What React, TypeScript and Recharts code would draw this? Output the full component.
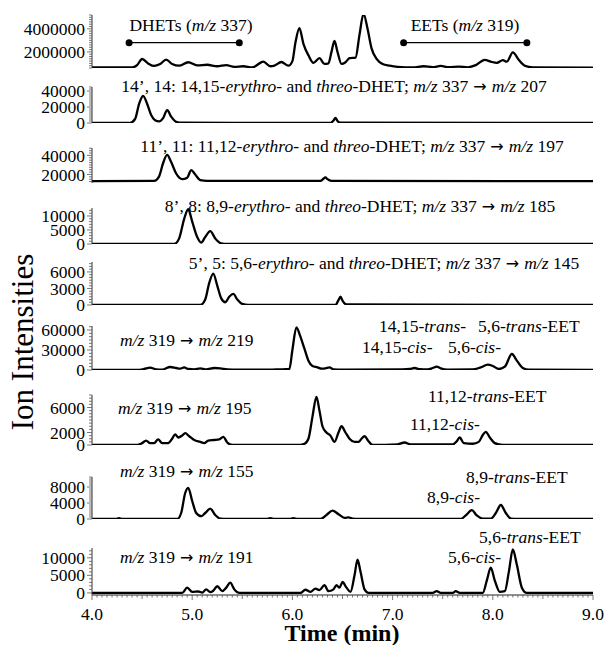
import React from "react";
import { LineChart, Line, XAxis, YAxis, ReferenceLine, ReferenceDot } from "recharts";

// ---------- data: [time (min), ion intensity] ----------
const ticTrace: [number, number][] = [
  [4.0, 650000], [4.4, 650000], [4.45, 850000], [4.5, 1380000], [4.56, 1000000], [4.62, 780000],
  [4.68, 950000], [4.74, 1320000], [4.8, 950000], [4.87, 800000], [4.96, 1100000], [5.05, 820000],
  [5.15, 880000], [5.25, 750000], [5.34, 850000], [5.42, 700000], [5.51, 750000], [5.6, 660000],
  [5.71, 1150000], [5.78, 750000], [5.82, 800000], [5.89, 1120000], [5.96, 800000], [6.0, 1200000],
  [6.03, 2800000], [6.07, 4050000], [6.11, 2700000], [6.16, 1700000], [6.21, 1050000], [6.27, 1450000],
  [6.32, 950000], [6.36, 1000000], [6.39, 2000000], [6.42, 2950000], [6.45, 2000000], [6.49, 950000],
  [6.53, 1100000], [6.57, 1450000], [6.63, 1500000], [6.67, 3500000], [6.71, 5300000], [6.75, 4000000],
  [6.79, 2300000], [6.84, 1400000], [6.9, 950000], [6.97, 800000], [7.05, 700000], [7.2, 650000],
  [7.31, 750000], [7.4, 680000], [7.48, 780000], [7.56, 680000], [7.66, 720000], [7.75, 660000],
  [7.83, 850000], [7.92, 1300000], [7.98, 1150000], [8.04, 1050000], [8.1, 1280000], [8.14, 1150000],
  [8.2, 1950000], [8.26, 1300000], [8.32, 800000], [8.4, 660000], [9.0, 620000],
];
const dhet14Trace: [number, number][] = [
  [4.0, 0], [4.38, 200], [4.43, 5000], [4.47, 24000], [4.51, 34000], [4.55, 24000], [4.59, 10000],
  [4.63, 3500], [4.67, 2000], [4.71, 6000], [4.75, 16000], [4.79, 8000], [4.84, 1500], [4.9, 300],
  [5.5, 200], [6.38, 200], [6.41, 3000], [6.43, 6500], [6.45, 2500], [6.48, 300], [9.0, 0],
];
const dhet11Trace: [number, number][] = [
  [4.0, 13000], [4.62, 13200], [4.67, 18000], [4.71, 32000], [4.75, 40500], [4.79, 33000],
  [4.84, 21000], [4.9, 15000], [4.95, 16500], [4.99, 24500], [5.03, 20000], [5.08, 14000],
  [5.15, 13200], [6.28, 13200], [6.31, 15500], [6.33, 17000], [6.35, 15000], [6.39, 13200], [9.0, 13000],
];
const dhet8Trace: [number, number][] = [
  [4.0, 0], [4.82, 0], [4.87, 2000], [4.92, 9000], [4.96, 12400], [5.0, 8000], [5.05, 2500],
  [5.09, 500], [5.13, 2500], [5.18, 4600], [5.23, 2000], [5.29, 200], [5.35, 0], [9.0, 0],
];
const dhet5Trace: [number, number][] = [
  [4.0, 0], [5.08, 0], [5.13, 1000], [5.17, 4000], [5.21, 5700], [5.25, 3500], [5.29, 1200],
  [5.33, 500], [5.37, 1500], [5.41, 2000], [5.45, 1000], [5.5, 200], [5.56, 0], [6.43, 0],
  [6.46, 900], [6.48, 1500], [6.5, 800], [6.54, 100], [9.0, 0],
];
const eet219Trace: [number, number][] = [
  [4.0, 0], [4.45, 0], [4.52, 1500], [4.58, 3500], [4.64, 1000], [4.7, 500], [4.78, 4500],
  [4.84, 3000], [4.88, 2000], [4.92, 4000], [4.96, 1500], [5.02, 1000], [5.08, 2500], [5.14, 800],
  [5.22, 3000], [5.28, 2500], [5.35, 1000], [5.45, 500], [5.6, 500], [5.8, 700], [5.9, 800],
  [5.97, 1500], [6.0, 30000], [6.04, 64000], [6.08, 50000], [6.12, 32000], [6.16, 14000],
  [6.2, 6000], [6.25, 4000], [6.29, 2000], [6.33, 2500], [6.37, 4000], [6.41, 1000], [6.5, 500],
  [7.1, 800], [7.17, 1500], [7.22, 3000], [7.27, 1200], [7.35, 800], [7.4, 3000], [7.44, 5000],
  [7.48, 2500], [7.55, 500], [7.8, 800], [7.88, 4000], [7.95, 8000], [8.0, 6000], [8.06, 1500],
  [8.12, 5000], [8.19, 24000], [8.24, 14000], [8.3, 3000], [8.36, 500], [9.0, 0],
];
const eet195Trace: [number, number][] = [
  [4.0, 0], [4.45, 0], [4.5, 300], [4.54, 700], [4.58, 300], [4.62, 300], [4.66, 900], [4.7, 300],
  [4.76, 300], [4.8, 1000], [4.83, 1700], [4.86, 1200], [4.9, 1500], [4.93, 1900], [4.97, 1400],
  [5.02, 800], [5.08, 500], [5.12, 300], [5.16, 700], [5.22, 800], [5.27, 900], [5.31, 1300],
  [5.35, 400], [5.4, 0], [6.05, 0], [6.12, 200], [6.16, 1000], [6.2, 4500], [6.24, 7700],
  [6.27, 5500], [6.3, 3000], [6.34, 2000], [6.38, 1500], [6.42, 500], [6.46, 2000], [6.49, 3000],
  [6.53, 2000], [6.57, 1000], [6.62, 500], [6.66, 500], [6.69, 1000], [6.72, 1400], [6.76, 600],
  [6.8, 0], [7.05, 100], [7.12, 400], [7.18, 100], [7.6, 100], [7.64, 600], [7.67, 1200],
  [7.71, 300], [7.8, 200], [7.86, 500], [7.9, 1600], [7.93, 2100], [7.97, 1200], [8.02, 300],
  [8.1, 0], [9.0, 0],
];
const eet155Trace: [number, number][] = [
  [4.0, 0], [4.24, 0], [4.27, 200], [4.3, 0], [4.85, 0], [4.89, 1500], [4.93, 6500], [4.96, 7800],
  [5.0, 4500], [5.04, 1500], [5.09, 700], [5.13, 1500], [5.18, 2600], [5.23, 1000], [5.28, 100],
  [5.35, 0], [5.74, 0], [5.78, 200], [5.82, 0], [5.97, 0], [6.01, 200], [6.05, 0], [6.28, 0],
  [6.34, 1000], [6.4, 2100], [6.46, 1200], [6.52, 300], [6.56, 400], [6.6, 100], [6.65, 0],
  [7.68, 0], [7.73, 900], [7.79, 2200], [7.84, 900], [7.9, 100], [7.98, 100], [8.03, 1500],
  [8.08, 3500], [8.13, 1500], [8.18, 100], [8.25, 0], [9.0, 0],
];
const eet191Trace: [number, number][] = [
  [4.0, 0], [4.9, 0], [4.95, 1500], [5.0, 300], [5.06, 400], [5.1, 100], [5.14, 1000], [5.18, 200],
  [5.21, 600], [5.25, 1900], [5.3, 500], [5.34, 1500], [5.38, 2900], [5.42, 1000], [5.47, 0],
  [6.08, 0], [6.13, 900], [6.18, 300], [6.23, 1200], [6.27, 800], [6.32, 2200], [6.36, 500],
  [6.41, 1000], [6.44, 2200], [6.47, 1500], [6.5, 3100], [6.54, 1500], [6.58, 300], [6.62, 5000],
  [6.65, 9500], [6.68, 6000], [6.72, 1000], [6.76, 0], [7.4, 0], [7.44, 500], [7.48, 0], [7.6, 0],
  [7.63, 500], [7.67, 0], [7.9, 0], [7.94, 3500], [7.98, 7200], [8.02, 3500], [8.07, 300],
  [8.12, 500], [8.16, 6000], [8.2, 12400], [8.24, 8000], [8.29, 1500], [8.34, 0], [9.0, 0],
];

// tick labels
const ticTicks = [2000000, 4000000];
const dhet14Ticks = [0, 20000, 40000];
const dhet11Ticks = [20000, 40000];
const dhet8Ticks = [0, 5000, 10000];
const dhet5Ticks = [0, 3000, 6000];
const eet219Ticks = [0, 30000, 60000];
const eet195Ticks = [0, 2000, 6000];
const eet155Ticks = [0, 4000, 8000];
const eet191Ticks = [0, 5000, 10000];
const timeTicks = [4, 5, 6, 7, 8, 9];

// bracket ranges in the TIC panel
const dhetRange: [number, number] = [4.37, 5.47];
const eetRange: [number, number] = [7.11, 8.34];
const rangeLevel = 2800000;

// ---------- layout ----------
const W = 605;
const AX = 92;
const RIGHT = 593;
const FONT = '"Liberation Serif", "Times New Roman", serif';
const ARROW_FONT = '"DejaVu Sans", sans-serif';

type Seg = [string, boolean];

function YTick(props: any) {
  const { y, payload, majors } = props;
  const v = payload.value;
  const major = majors.includes(v);
  return (
    <g>
      <line x1={AX - (major ? 5 : 3)} x2={AX} y1={y} y2={y} stroke="#555" strokeWidth={0.8} />
      {major && (
        <text x={AX - 7} y={y} dy="0.35em" textAnchor="end" fontSize={17.5} fontFamily={FONT} fill="#000">
          {String(v)}
        </text>
      )}
    </g>
  );
}

function XTick(props: any) {
  const { x, y, payload } = props;
  const v = payload.value;
  const isInt = Math.abs(v - Math.round(v)) < 1e-6;
  const isHalf = Math.abs(v * 2 - Math.round(v * 2)) < 1e-6;
  const len = isInt ? 5 : isHalf ? 4 : 2.5;
  return (
    <g>
      <line x1={x} x2={x} y1={y} y2={y + len} stroke="#555" strokeWidth={0.8} />
      {isInt && timeTicks.includes(Math.round(v)) && (
        <text x={x} y={y + 19} dy="0.35em" textAnchor="middle" fontSize={17.5} fontFamily={FONT} fill="#000">
          {v.toFixed(1)}
        </text>
      )}
    </g>
  );
}

function makeTicks(min: number, max: number, step: number, majors: number[]) {
  const out: number[] = [];
  const start = Math.ceil(min / step);
  const end = Math.floor(max / step);
  for (let i = start; i <= end; i++) out.push(i * step === 0 ? 0 : i * step);
  majors.forEach((m) => { if (!out.includes(m)) out.push(m); });
  return out.sort((a, b) => a - b);
}

interface PanelProps {
  trace: [number, number][];
  top: number;
  bottom: number;
  domain: [number, number];
  majors: number[];
  minorStep: number;
  xAxis?: boolean;
  children?: React.ReactNode;
}

function Panel({ trace, top, bottom, domain, majors, minorStep, xAxis, children }: PanelProps) {
  const data = trace.map(([t, v]) => ({ t, v }));
  const mTop = 10;
  const mBottom = 10;
  const xH = xAxis ? 45 : 0;
  const H = bottom - top + mTop + (xAxis ? 0 : mBottom) + xH;
  const yTicks = makeTicks(domain[0], domain[1], minorStep, majors);
  const xTicks: number[] = [];
  for (let i = 0; i <= 100; i++) xTicks.push(Math.round((4 + i * 0.05) * 100) / 100);
  return (
    <div style={{ position: "absolute", left: 0, top: top - mTop }}>
      <LineChart
        width={W}
        height={H}
        data={data}
        style={{ overflow: "visible" }}
        margin={{ top: mTop, right: W - RIGHT, bottom: xAxis ? 0 : mBottom, left: 0 }}
      >
        <XAxis
          dataKey="t"
          type="number"
          domain={[4, 9]}
          allowDataOverflow
          hide={!xAxis}
          height={xH}
          ticks={xTicks}
          interval={0}
          tickLine={false}
          tickSize={0}
          tickMargin={0}
          axisLine={{ stroke: "#222", strokeWidth: 1 }}
          tick={(p: any) => <XTick {...p} />}
        />
        <YAxis
          type="number"
          width={AX}
          domain={domain}
          allowDataOverflow
          ticks={yTicks}
          interval={0}
          tickLine={false}
          tickSize={0}
          tickMargin={0}
          axisLine={{ stroke: "#333", strokeWidth: 1 }}
          tick={(p: any) => <YTick {...p} majors={majors} />}
        />
        <Line
          dataKey="v"
          type="monotone"
          stroke="#000"
          strokeWidth={2.3}
          dot={false}
          isAnimationActive={false}
        />
        {children}
      </LineChart>
    </div>
  );
}

// ---------- annotations ----------
const ARROW = " → ";
const lblDhets: Seg[] = [["DHETs (", false], ["m/z", true], [" 337)", false]];
const lblEets: Seg[] = [["EETs (", false], ["m/z", true], [" 319)", false]];
const lbl14: Seg[] = [["14’, 14: 14,15-", false], ["erythro", true], ["- and ", false], ["threo", true], ["-DHET; ", false], ["m/z", true], [" 337", false], [ARROW, false], ["m/z", true], [" 207", false]];
const lbl11: Seg[] = [["11’, 11: 11,12-", false], ["erythro", true], ["- and ", false], ["threo", true], ["-DHET; ", false], ["m/z", true], [" 337", false], [ARROW, false], ["m/z", true], [" 197", false]];
const lbl8: Seg[] = [["8’, 8: 8,9-", false], ["erythro", true], ["- and ", false], ["threo", true], ["-DHET; ", false], ["m/z", true], [" 337", false], [ARROW, false], ["m/z", true], [" 185", false]];
const lbl5: Seg[] = [["5’, 5: 5,6-", false], ["erythro", true], ["- and ", false], ["threo", true], ["-DHET; ", false], ["m/z", true], [" 337", false], [ARROW, false], ["m/z", true], [" 145", false]];
const lbl219: Seg[] = [["m/z", true], [" 319", false], [ARROW, false], ["m/z", true], [" 219", false]];
const lbl195: Seg[] = [["m/z", true], [" 319", false], [ARROW, false], ["m/z", true], [" 195", false]];
const lbl155: Seg[] = [["m/z", true], [" 319", false], [ARROW, false], ["m/z", true], [" 155", false]];
const lbl191: Seg[] = [["m/z", true], [" 319", false], [ARROW, false], ["m/z", true], [" 191", false]];
const lbl1415t: Seg[] = [["14,15-", false], ["trans", true], ["-", false]];
const lbl56tE: Seg[] = [["5,6-", false], ["trans", true], ["-EET", false]];
const lbl1415c: Seg[] = [["14,15-", false], ["cis", true], ["-", false]];
const lbl56c: Seg[] = [["5,6-", false], ["cis", true], ["-", false]];
const lbl1112tE: Seg[] = [["11,12-", false], ["trans", true], ["-EET", false]];
const lbl1112c: Seg[] = [["11,12-", false], ["cis", true], ["-", false]];
const lbl89tE: Seg[] = [["8,9-", false], ["trans", true], ["-EET", false]];
const lbl89c: Seg[] = [["8,9-", false], ["cis", true], ["-", false]];

type Ann = { segs: Seg[]; x: number; y: number; anchor: "start" | "middle" | "end" };
const annotations: Ann[] = [
  { segs: lblDhets, x: 191, y: 25, anchor: "middle" },
  { segs: lblEets, x: 465, y: 25, anchor: "middle" },
  { segs: lbl14, x: 334, y: 86, anchor: "middle" },
  { segs: lbl11, x: 352, y: 146, anchor: "middle" },
  { segs: lbl8, x: 360, y: 206, anchor: "middle" },
  { segs: lbl5, x: 384, y: 263, anchor: "middle" },
  { segs: lbl219, x: 120, y: 340, anchor: "start" },
  { segs: lbl1415t, x: 379, y: 326, anchor: "start" },
  { segs: lbl56tE, x: 478, y: 326, anchor: "start" },
  { segs: lbl1415c, x: 362, y: 347, anchor: "start" },
  { segs: lbl56c, x: 448, y: 347, anchor: "start" },
  { segs: lbl195, x: 118, y: 408, anchor: "start" },
  { segs: lbl1112tE, x: 428, y: 396, anchor: "start" },
  { segs: lbl1112c, x: 410, y: 424, anchor: "start" },
  { segs: lbl155, x: 120, y: 471, anchor: "start" },
  { segs: lbl89tE, x: 466, y: 477, anchor: "start" },
  { segs: lbl89c, x: 427, y: 497, anchor: "start" },
  { segs: lbl191, x: 120, y: 557, anchor: "start" },
  { segs: lbl56tE, x: 479, y: 537, anchor: "start" },
  { segs: lbl56c, x: 448, y: 557, anchor: "start" },
];

function Overlay() {
  return (
    <svg
      width={W}
      height={645}
      style={{ position: "absolute", left: 0, top: 0, pointerEvents: "none" }}
    >
      {annotations.map((a, i) => (
        <text
          key={i}
          x={a.x}
          y={a.y}
          dy="0.35em"
          textAnchor={a.anchor}
          fontSize={17.5}
          fontFamily={FONT}
          fill="#000"
          style={{ whiteSpace: "pre" }}
        >
          {a.segs.map(([s, it], j) => (
            <tspan
              key={j}
              fontStyle={it ? "italic" : "normal"}
              fontFamily={s === ARROW ? ARROW_FONT : undefined}
              fontSize={s === ARROW ? 16 : undefined}
            >
              {s}
            </tspan>
          ))}
        </text>
      ))}
      <text x={342} y={633} dy="0.35em" textAnchor="middle" fontSize={24} fontWeight="bold" fontFamily={FONT} fill="#000">
        Time (min)
      </text>
      <text
        x={22}
        y={342}
        dy="0.35em"
        textAnchor="middle"
        fontSize={31}
        fontFamily={FONT}
        fill="#000"
        transform="rotate(-90 22 342)"
      >
        Ion Intensities
      </text>
    </svg>
  );
}

export default function App() {
  return (
    <div style={{ position: "absolute", left: 0, top: 0, width: W, height: 645, background: "#fff" }}>
      <Panel trace={ticTrace} top={15} bottom={68} domain={[600000, 5200000]} majors={ticTicks} minorStep={200000}>
        <ReferenceLine segment={[{ x: dhetRange[0], y: rangeLevel }, { x: dhetRange[1], y: rangeLevel }]} stroke="#000" strokeWidth={1.2} />
        <ReferenceLine segment={[{ x: eetRange[0], y: rangeLevel }, { x: eetRange[1], y: rangeLevel }]} stroke="#000" strokeWidth={1.2} />
        <ReferenceDot x={dhetRange[0]} y={rangeLevel} r={3.5} fill="#000" stroke="none" />
        <ReferenceDot x={dhetRange[1]} y={rangeLevel} r={3.5} fill="#000" stroke="none" />
        <ReferenceDot x={eetRange[0]} y={rangeLevel} r={3.5} fill="#000" stroke="none" />
        <ReferenceDot x={eetRange[1]} y={rangeLevel} r={3.5} fill="#000" stroke="none" />
      </Panel>
      <Panel trace={dhet14Trace} top={87} bottom={123} domain={[0, 45000]} majors={dhet14Ticks} minorStep={2500} />
      <Panel trace={dhet11Trace} top={148} bottom={183} domain={[11000, 47800]} majors={dhet11Ticks} minorStep={2500} />
      <Panel trace={dhet8Trace} top={208} bottom={244} domain={[0, 12850]} majors={dhet8Ticks} minorStep={1000} />
      <Panel trace={dhet5Trace} top={262} bottom={305} domain={[0, 7800]} majors={dhet5Ticks} minorStep={500} />
      <Panel trace={eet219Trace} top={326} bottom={370} domain={[0, 66000]} majors={eet219Ticks} minorStep={5000} />
      <Panel trace={eet195Trace} top={395} bottom={445} domain={[0, 8000]} majors={eet195Ticks} minorStep={500} />
      <Panel trace={eet155Trace} top={477} bottom={519} domain={[0, 10500]} majors={eet155Ticks} minorStep={500} />
      <Panel trace={eet191Trace} top={548} bottom={595} domain={[-600, 12800]} majors={eet191Ticks} minorStep={1000} xAxis />
      <Overlay />
    </div>
  );
}
